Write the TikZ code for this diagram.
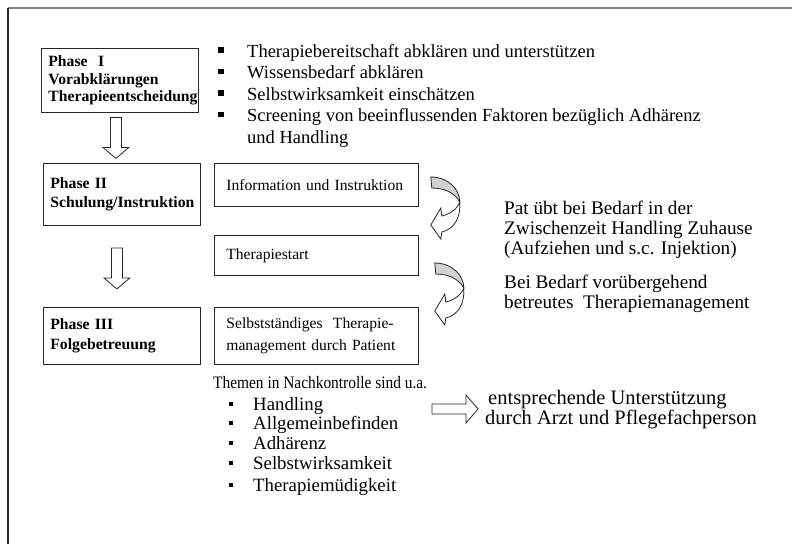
\documentclass[tikz,border=0pt]{standalone}
\usepackage{fontspec}
\setmainfont{Liberation Serif}
\newfontfamily\narrowfont[FakeStretch=0.88]{Liberation Serif}
\usetikzlibrary{calc, positioning}
\tikzset{>=stealth}
\tikzset{
  box/.style={draw=black!85, line width=0.8pt, anchor=north west, align=left, inner ysep=0pt},
  phase/.style={box, inner xsep=7pt, text width=143pt, font=\bfseries\fontsize{15.7}{19.5}\selectfont},
  stepbox/.style={box, inner xsep=12pt, text width=180pt, font=\fontsize{15.6}{22}\selectfont},
  item/.style={anchor=base west, inner sep=0pt, font=\fontsize{18.5}{21.5}\selectfont},
  note/.style={anchor=base west, inner sep=0pt, align=left, font=\fontsize{19.2}{20}\selectfont},
  bullet/.style={fill=black, rectangle, inner sep=0pt, minimum size=5.5pt},
  hollow/.style={draw=black!85, line width=0.8pt, fill=white},
  downarrow/.pic={\draw[hollow] (-5.5,-20.5) -- (-5.5,9.5) -- (-13,9.5) -- (0,20.5) -- (13,9.5) -- (5.5,9.5) -- (5.5,-20.5) -- cycle;},
  rightarrow/.pic={\draw[hollow] (-23,-5) -- (11,-5) -- (11,-14) -- (23,0) -- (11,14) -- (11,5) -- (-23,5) -- cycle;},
  curvedarrow/.pic={
    \draw[draw=black!85, line width=0.8pt, fill=gray!35] (0,0) .. controls (17,0) and (29,12) .. (29,25) .. controls (24,16) and (14,11) .. (1,11) -- cycle;
    \draw[hollow] (29,25) .. controls (27,31) and (20,37) .. (11,39) -- (10,31) -- (0,48) -- (10,62) -- (11,55) .. controls (24,52) and (30,40) .. (29,25) -- cycle;}
}

\begin{document}
\begin{tikzpicture}[x=1pt, y=-1pt]
\useasboundingbox (0,0) rectangle (792,544);
\draw[gray, line width=1.4pt] (8,8) -- (792,8);
\draw[black!85, line width=1.2pt] (8,8) -- (8,544);

\node [phase, minimum height=64pt, font=\bfseries\fontsize{15.7}{17.5}\selectfont] (p1) at (41,48) {Phase\ \ I\\Vorabklärungen\\Therapieentscheidung};
\node [phase, minimum height=62pt] (p2) at (43,163) {Phase II\\Schulung/Instruktion};
\node [phase, minimum height=57pt] (p3) at (43,307) {Phase III\\Folgebetreuung};

\node [stepbox, minimum height=43pt] (info) at (214,163) {Information und Instruktion};
\node [stepbox, minimum height=40pt] (start) at (214,235) {Therapiestart};
\node [stepbox, minimum height=57pt] (self) at (214,307) {Selbstständiges\ \ Therapie-\\management durch Patient};

\pic at ($(p1.south)!.5!(p2.north)+(-5,0)$) {downarrow};
\pic at ($(p2.south)!.5!(p3.north)+(-5,2)$) {downarrow};

\node [bullet] (b1) at (221,50) {};
\node [bullet] (b2) at (221,71.5) {};
\node [bullet] (b3) at (221,93) {};
\node [bullet] (b4) at (221,114.5) {};
\node [item] (t1) at (247,57) {Therapiebereitschaft abklären und unterstützen};
\node [item] (t2) at (247,78.5) {Wissensbedarf abklären};
\node [item] (t3) at (247,100) {Selbstwirksamkeit einschätzen};
\node [item] (t4) at (247,121.5) {Screening von beeinflussenden Faktoren bezüglich Adhärenz};
\node [item] (t5) at (247,143) {und Handling};

\pic at ($(info.north east)+(12,14)$) {curvedarrow};
\pic at ($(start.north east)+(16,28)$) {curvedarrow};

\node [note] (pat) at (504,254) {Pat übt bei Bedarf in der\\Zwischenzeit Handling Zuhause\\(Aufziehen und s.c. Injektion)};
\node [note] (bei) at (504,308) {Bei Bedarf vorübergehend\\betreutes\ \ Therapiemanagement};

\node [item, font=\narrowfont\fontsize{17.5}{20}\selectfont] (themen) at (213,388) {Themen in Nachkontrolle sind u.a.};

\node [bullet, minimum size=4.5pt] (c1) at (231,404) {};
\node [bullet, minimum size=4.5pt] (c2) at (231,423) {};
\node [bullet, minimum size=4.5pt] (c3) at (231,443) {};
\node [bullet, minimum size=4.5pt] (c4) at (231,463) {};
\node [bullet, minimum size=4.5pt] (c5) at (231,485) {};
\node [item, font=\fontsize{18.8}{20}\selectfont] (h1) at (253,410) {Handling};
\node [item, font=\fontsize{18.8}{20}\selectfont] (h2) at (253,429) {Allgemeinbefinden};
\node [item, font=\fontsize{18.8}{20}\selectfont] (h3) at (253,449) {Adhärenz};
\node [item, font=\fontsize{18.8}{20}\selectfont] (h4) at (253,469) {Selbstwirksamkeit};
\node [item, font=\fontsize{18.8}{20}\selectfont] (h5) at (253,491) {Therapiemüdigkeit};

\pic at (455,409) {rightarrow};
\node [note, font=\fontsize{20.5}{19}\selectfont] (unt) at (488,404) {entsprechende Unterstützung};
\node [note, font=\fontsize{20.5}{19}\selectfont] (arzt) at (485,424) {durch Arzt und Pflegefachperson};
\end{tikzpicture}
\end{document}
